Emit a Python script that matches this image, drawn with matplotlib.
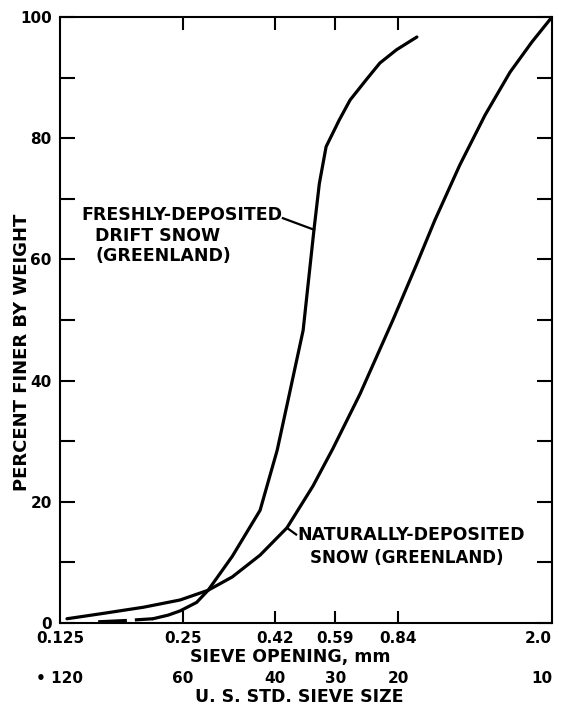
import matplotlib
matplotlib.use("Agg")
import matplotlib.pyplot as plt
from matplotlib.ticker import FixedLocator, NullLocator, NullFormatter

# -------------------------------------------------------
# Data
# -------------------------------------------------------

sieve_mm = [0.125, 0.25, 0.42, 0.59, 0.84, 2.0]
sieve_mm_labels = ["0.125", "0.25", "0.42", "0.59", "0.84", "2.0"]
sieve_no_labels = ["\u2022 120", "60", "40", "30", "20", "10"]

# naturally-deposited snow
natural_mm = [0.130, 0.16, 0.20, 0.246, 0.288, 0.33, 0.386, 0.449, 0.52,
              0.582, 0.678, 0.816, 0.93, 1.034, 1.19, 1.371, 1.579, 1.787, 2.0]
natural_pct = [0.7, 1.6, 2.6, 3.8, 5.4, 7.6, 11.2, 15.7, 22.6,
               28.8, 37.8, 50.0, 59.0, 66.5, 75.6, 83.8, 90.9, 95.9, 100.0]

# freshly-deposited drift snow, dashed start
fresh_dash_mm = [0.155, 0.18, 0.211]
fresh_dash_pct = [0.2, 0.4, 0.7]

# freshly-deposited drift snow, solid part
fresh_mm = [0.211, 0.23, 0.246, 0.27, 0.288, 0.33, 0.386, 0.425, 0.452,
            0.492, 0.523, 0.539, 0.560, 0.603, 0.641, 0.705, 0.758, 0.833,
            0.934]
fresh_pct = [0.7, 1.3, 2.0, 3.4, 5.4, 11.0, 18.6, 28.5, 36.8,
             48.3, 64.9, 72.5, 78.6, 83.0, 86.3, 89.8, 92.4, 94.6, 96.7]

# -------------------------------------------------------
# Figure
# -------------------------------------------------------

fig = plt.figure(figsize=(5.66, 7.08), dpi=100)
ax = fig.add_axes([60 / 566, 1 - 623 / 708, 492 / 566, 606 / 708])

ax.plot(natural_mm, natural_pct, color="black", lw=2.3,
        solid_capstyle="round", solid_joinstyle="round")
ax.plot(fresh_mm, fresh_pct, color="black", lw=2.3,
        solid_capstyle="round", solid_joinstyle="round")
ax.plot(fresh_dash_mm, fresh_dash_pct, color="black", lw=2.3,
        dashes=(9, 2.5))

ax.set_xscale("log")
ax.set_xlim(0.125, 2.0)
ax.set_ylim(0, 100)

for s in ax.spines.values():
    s.set_linewidth(1.5)

font = dict(family="DejaVu Sans", weight="bold")

# x ticks
ax.xaxis.set_major_locator(FixedLocator(sieve_mm[1:-1]))
ax.xaxis.set_minor_locator(NullLocator())
ax.xaxis.set_minor_formatter(NullFormatter())
ax.set_xticklabels([])
ax.tick_params(axis="x", which="major", direction="in", length=9, width=1.5,
               top=True)

for i, (mm, lab, no) in enumerate(zip(sieve_mm, sieve_mm_labels, sieve_no_labels)):
    ha = "right" if i == len(sieve_mm) - 1 else "center"
    ax.text(mm, -2.5, lab, ha=ha, va="center", fontsize=11, **font)
    ax.text(mm, -9.1, no, ha=ha, va="center", fontsize=11, **font)

# y ticks
ax.set_yticks(range(0, 101, 10))
ax.set_yticklabels([str(v) if v % 20 == 0 else "" for v in range(0, 101, 10)],
                   fontsize=11, fontweight="bold")
ax.tick_params(axis="y", direction="in", length=11, width=1.5, right=True,
               pad=6)

fig.text(290 / 566, 1 - 657 / 708, "SIEVE OPENING, mm", ha="center",
         va="center", fontsize=12.5, **font)
fig.text(299 / 566, 1 - 697 / 708, "U. S. STD. SIEVE SIZE", ha="center",
         va="center", fontsize=12.5, **font)
fig.text(22 / 566, 1 - 352 / 708, "PERCENT FINER BY WEIGHT", rotation=90,
         ha="center", va="center", fontsize=13, **font)

# annotations
ax.text(0.1413, 67.3, "FRESHLY-DEPOSITED", fontsize=12.5, va="center", **font)
ax.text(0.1523, 63.9, "DRIFT SNOW", fontsize=12.5, va="center", **font)
ax.text(0.1523, 60.6, "(GREENLAND)", fontsize=12.5, va="center", **font)
ax.plot([0.439, 0.523], [66.8, 64.9], color="black", lw=1.6)

ax.text(0.475, 14.5, "NATURALLY-DEPOSITED", fontsize=12.5, va="center", **font)
ax.text(0.511, 10.7, "SNOW (GREENLAND)", fontsize=12, va="center", **font)
ax.plot([0.449, 0.473], [15.7, 14.6], color="black", lw=1.6)

fig.savefig("out.png", dpi=100)
